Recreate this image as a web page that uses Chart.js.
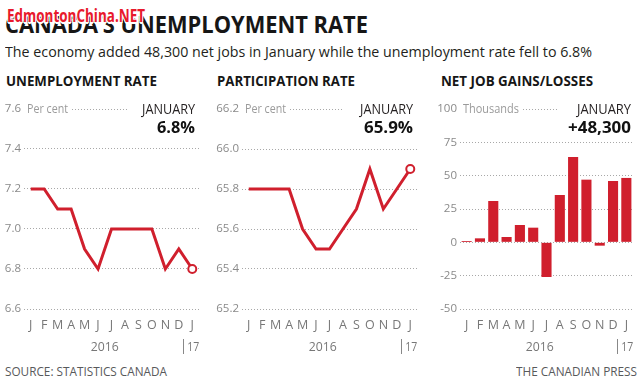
<!DOCTYPE html>
<html><head><meta charset="utf-8">
<script src="https://cdn.jsdelivr.net/npm/chart.js@4.4.1/dist/chart.umd.min.js"></script>
<style>
html,body{margin:0;padding:0;background:#fff;}
#wrap{position:relative;width:640px;height:383px;overflow:hidden;background:#fff;}
.t{position:absolute;white-space:nowrap;line-height:1;font-family:"Open Sans",sans-serif;transform-origin:0 0;}
.wm{text-shadow:1px 1px 0 #fff,-1px -1px 0 #fff,1px -1px 0 #fff,-1px 1px 0 #fff,0 2px 0 #fff;}
canvas{position:absolute;}
</style></head><body>
<div id="wrap"></div>
<script>
// ---- data ----
const months = ['J','F','M','A','M','J','J','A','S','O','N','D','J'];
const yearLabels = ['2016','17'];
const unemploymentRate = [7.2,7.2,7.1,7.1,6.9,6.8,7.0,7.0,7.0,7.0,6.8,6.9,6.8];
const participationRate = [65.8,65.8,65.8,65.8,65.6,65.5,65.5,65.6,65.7,65.9,65.7,65.8,65.9];
const netJobs = [1,3,31,4,13,11,-26,35.5,64,47,-2.5,46,48.3];
const unemploymentTicks = {min:6.6, max:7.6, step:0.2};
const participationTicks = {min:65.2, max:66.2, step:0.2};
const netJobsTicks = {min:-50, max:100, step:25};
const latestLabels = ['6.8%','65.9%','+48,300'];

const RED = '#d01f2d';
const wrap = document.getElementById('wrap');

// ---- page text ----
const texts = [
  ['CANADA\u2019S UNEMPLOYMENT RATE', 5, 14.1, 22.4, 700, '#161616', 363],
  ['The economy added 48,300 net jobs in January while the unemployment rate fell to 6.8%', 5, 44, 15, 400, '#231f20', 587],
  ['UNEMPLOYMENT RATE', 6, 74.3, 14, 700, '#161616', 151],
  ['PARTICIPATION RATE', 217, 74.3, 14, 700, '#161616', 138],
  ['NET JOB GAINS/LOSSES', 441, 74.3, 14, 700, '#161616', 152],
  ['SOURCE: STATISTICS CANADA', 5, 364.5, 13, 400, '#58595b', 162],
  ['THE CANADIAN PRESS', 516, 364.5, 13, 400, '#58595b', 121]
];
const textEls = [];
function addText(t, z, cls) {
  const el = document.createElement('div');
  el.className = 't' + (cls ? ' ' + cls : '');
  el.textContent = t[0];
  el.style.left = t[1] + 'px'; el.style.top = t[2] + 'px';
  el.style.fontSize = t[3] + 'px'; el.style.fontWeight = t[4];
  el.style.color = t[5];
  if (z) el.style.zIndex = z;
  wrap.appendChild(el);
  textEls.push([el, t[6]]);
}
texts.forEach(t => addText(t));

function fitAll() {
  textEls.forEach(([el, w]) => {
    el.style.transform = 'none';
    const r = el.getBoundingClientRect().width;
    el.style.transform = 'scaleX(' + (w / r) + ')';
  });
}

function fitText(ctx, text, x, y, font, w, align) {
  ctx.font = font;
  const m = ctx.measureText(text).width;
  const s = w / m;
  ctx.save();
  ctx.textAlign = 'left'; ctx.textBaseline = 'alphabetic';
  const x0 = align === 'right' ? x - w : align === 'center' ? x - w / 2 : x;
  ctx.translate(x0, y); ctx.scale(s, 1);
  ctx.fillText(text, 0, 0);
  ctx.restore();
}

const TOP = 90, H = 275;
const overlay = {
  id: 'overlay',
  afterDraw(chart) {
    const p = chart.options.plugins.overlay;
    const ctx = chart.ctx, a = chart.chartArea;
    const ys = chart.scales.y, xs = chart.scales.x;
    const yTop = ys.getPixelForValue(ys.max);
    ctx.save();
    ctx.fillStyle = '#fff';
    ctx.fillRect(a.left - 1, yTop - 3, p.unitW + 6, 6);
    ctx.fillRect(p.gapStart - p.left, yTop - 3, a.right - (p.gapStart - p.left) + 3, 6);
    ctx.fillStyle = '#9a9a9a';
    fitText(ctx, p.unit, a.left + 3, yTop + 4, '400 12px "Open Sans"', p.unitW, 'left');
    ctx.fillStyle = '#231f20';
    fitText(ctx, 'JANUARY', p.janRight - p.left, yTop + 5, '400 14px "Open Sans"', p.janW, 'right');
    ctx.fillStyle = '#111';
    fitText(ctx, p.value, p.janRight - p.left, yTop + 24, '700 16px "Open Sans"', p.valW, 'right');
    // year labels
    const x0 = xs.getPixelForValue(0), x11 = xs.getPixelForValue(11), x12 = xs.getPixelForValue(12);
    ctx.fillStyle = '#777';
    fitText(ctx, yearLabels[0], (x0 + x11) / 2, 260.7, '400 12.5px "Open Sans"', 28, 'center');
    fitText(ctx, yearLabels[1], x12 + 1, 260.7, '400 12.5px "Open Sans"', 12, 'center');
    ctx.strokeStyle = '#888'; ctx.lineWidth = 1;
    ctx.beginPath(); ctx.moveTo(Math.round(x12 - 9.5) + 0.5, 249); ctx.lineTo(Math.round(x12 - 9.5) + 0.5, 264); ctx.stroke();
    ctx.restore();
  }
};

function makePanel(p) {
  const cv = document.createElement('canvas');
  cv.width = p.width; cv.height = H;
  cv.style.left = p.left + 'px'; cv.style.top = TOP + 'px';
  cv.style.width = p.width + 'px'; cv.style.height = H + 'px';
  wrap.appendChild(cv);
  const last = p.data.length - 1;
  const ds = p.type === 'line' ? {
    data: p.data, borderColor: RED, borderWidth: 3, tension: 0, fill: false,
    pointRadius: p.data.map((v, i) => i === last ? 4 : 0),
    pointBackgroundColor: '#fff', pointBorderColor: RED, pointBorderWidth: 2,
    borderJoinStyle: 'miter', clip: false
  } : {
    data: p.data, backgroundColor: RED, barPercentage: 0.76, categoryPercentage: 1
  };
  new Chart(cv, {
    type: p.type,
    data: { labels: months, datasets: [ds] },
    options: {
      responsive: false, animation: false, devicePixelRatio: 1,
      layout: { padding: { left: 0, right: p.width - p.areaRight, top: 19, bottom: H - 219 - 40 } },
      plugins: { legend: { display: false }, tooltip: { enabled: false }, overlay: p },
      scales: {
        x: {
          offset: true,
          grid: { display: false, drawTicks: false },
          border: { display: false },
          ticks: { autoSkip: false, maxRotation: 0, padding: 9, color: '#777', font: { family: 'Open Sans', size: 12.5 } },
          afterFit(s) { s.height = 40; }
        },
        y: {
          min: p.ticks.min, max: p.ticks.max,
          ticks: { stepSize: p.ticks.step, padding: 3, color: '#8a8a8a', font: { family: 'Open Sans', size: 11.5 },
                   callback: v => p.dec ? Number(v).toFixed(1) : String(Math.round(v)) },
          grid: { color: '#a8a8a8', drawTicks: false, lineWidth: 1 },
          border: { display: false, dash: [1, 2] },
          afterFit(s) { s.width = p.areaLeft; }
        }
      }
    },
    plugins: [overlay]
  });
}

function build() {
  fitAll();
  makePanel({ type: 'line', data: unemploymentRate, ticks: unemploymentTicks, dec: true,
    left: 0, width: 210, areaLeft: 24, areaRight: 199,
    unit: 'Per cent', unitW: 41, gapStart: 127, janRight: 195, janW: 53, value: latestLabels[0], valW: 38 });
  makePanel({ type: 'line', data: participationRate, ticks: participationTicks, dec: true,
    left: 210, width: 220, areaLeft: 32, areaRight: 207,
    unit: 'Per cent', unitW: 41, gapStart: 343, janRight: 413, janW: 53, value: latestLabels[1], valW: 49 });
  makePanel({ type: 'bar', data: netJobs, ticks: netJobsTicks, dec: false,
    left: 430, width: 210, areaLeft: 30, areaRight: 203,
    unit: 'Thousands', unitW: 56, gapStart: 557, janRight: 631, janW: 54, value: latestLabels[2], valW: 63 });
  addText(['EdmontonChina.NET', 7, 6, 18.6, 700, '#e8192c', 138], 10, 'wm');
  fitAll();
}
if (document.fonts && document.fonts.ready) document.fonts.ready.then(build); else build();
</script>
</body></html>
